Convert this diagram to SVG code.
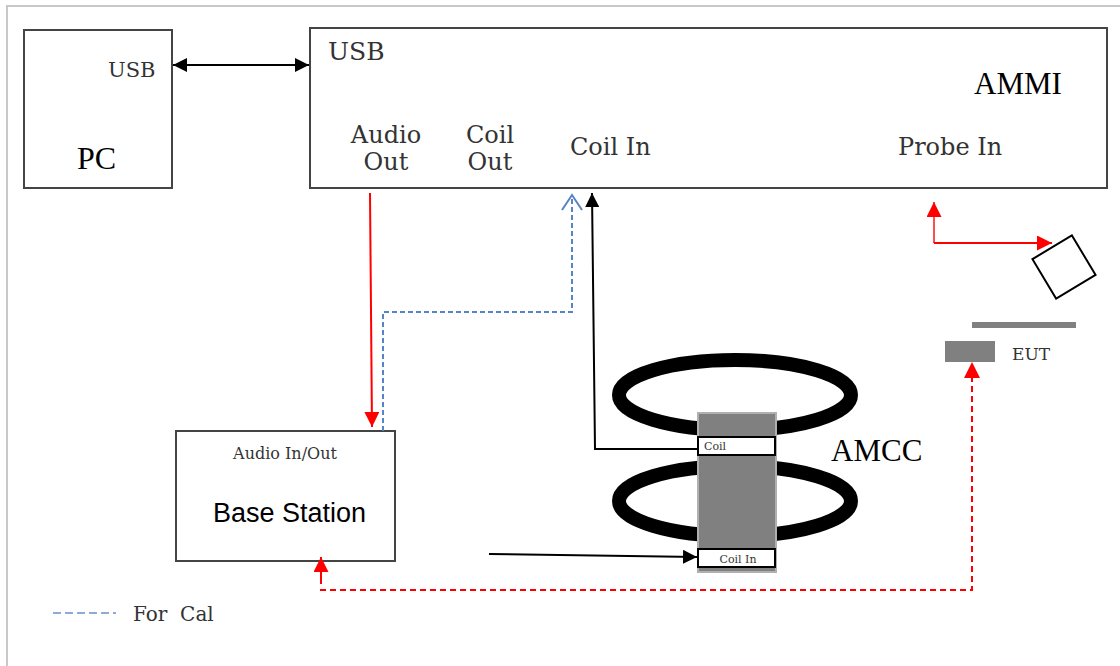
<svg xmlns="http://www.w3.org/2000/svg" width="1120" height="666" viewBox="0 0 1120 666">
<style>
.box{fill:#fff;stroke:#444;stroke-width:2}
.lbl{font-family:"DejaVu Serif",serif;fill:#333}
.big{font-family:"Liberation Serif",serif;fill:#000}
.blk{stroke:#000;stroke-width:2;fill:none}
.red{stroke:#f00;stroke-width:2;fill:none}
.reddash{stroke:#f00;stroke-width:2;fill:none;stroke-dasharray:6 4}
.bluedash{stroke:#5585c6;stroke-width:2;fill:none;stroke-dasharray:5 3}
.coil{fill:none;stroke:#000;stroke-width:14}
.port{fill:#fff;stroke:#000;stroke-width:2}
</style>
<defs>
<marker id="ab" viewBox="0 0 10 10" refX="10" refY="5" markerWidth="14" markerHeight="14" markerUnits="userSpaceOnUse" orient="auto-start-reverse"><path d="M0,0 L10,5 L0,10 z" fill="#000"/></marker>
<marker id="ar" viewBox="0 0 10 10" refX="10" refY="5" markerWidth="15" markerHeight="15" markerUnits="userSpaceOnUse" orient="auto-start-reverse"><path d="M0,0 L10,5 L0,10 z" fill="#f00"/></marker>
</defs>
<rect width="1120" height="666" fill="#fff"/>
<path d="M7,666 V6 H1120" fill="none" stroke="#c8c8c8" stroke-width="2"/>

<g id="pc">
<rect class="box" x="24" y="30" width="148" height="158"/>
<text class="lbl" x="108" y="77" font-size="21">USB</text>
<text class="big" x="77" y="169" font-size="32">PC</text>
</g>

<g id="ammi">
<rect class="box" x="310" y="28" width="797" height="160"/>
<text class="lbl" x="328" y="60" font-size="25">USB</text>
<text class="big" x="974" y="94" font-size="31">AMMI</text>
<text class="lbl" x="386" y="143" font-size="24" text-anchor="middle">Audio</text>
<text class="lbl" x="386" y="170" font-size="24" text-anchor="middle">Out</text>
<text class="lbl" x="490" y="143" font-size="24" text-anchor="middle">Coil</text>
<text class="lbl" x="490" y="170" font-size="24" text-anchor="middle">Out</text>
<text class="lbl" x="570" y="155" font-size="24">Coil In</text>
<text class="lbl" x="898" y="155" font-size="24">Probe In</text>
</g>

<g id="base-station">
<rect class="box" x="176" y="431" width="219" height="130"/>
<text class="lbl" x="285" y="459" font-size="16" text-anchor="middle">Audio In/Out</text>
<text x="213" y="522" font-size="27" font-family="Liberation Sans,sans-serif" fill="#000">Base Station</text>
</g>

<g id="amcc">
<ellipse class="coil" cx="735" cy="395" rx="116" ry="35"/>
<ellipse class="coil" cx="735" cy="501" rx="116" ry="35"/>
<rect x="698" y="413" width="78" height="159" fill="#808080" stroke="#b0b0b0" stroke-width="2"/>
<rect class="port" x="698" y="437" width="77" height="18"/>
<text class="lbl" x="704" y="450" font-size="11">Coil</text>
<rect class="port" x="698" y="549" width="77" height="18"/>
<text class="lbl" x="738" y="563" font-size="11" text-anchor="middle">Coil In</text>
<text class="big" x="831" y="461" font-size="31">AMCC</text>
</g>

<g id="probe">
<rect x="-23" y="-23" width="46" height="46" fill="#fff" stroke="#000" stroke-width="2" transform="translate(1064,267) rotate(-31)"/>
</g>

<g id="eut">
<rect x="972" y="322" width="104" height="6" fill="#808080"/>
<rect x="945" y="341" width="50" height="21" fill="#808080"/>
<text class="lbl" x="1012" y="360" font-size="17">EUT</text>
</g>

<g id="legend">
<line x1="53" y1="613" x2="116" y2="613" stroke="#8eaadb" stroke-width="2" stroke-dasharray="8 4"/>
<text class="lbl" x="133" y="621" font-size="20" xml:space="preserve">For  Cal</text>
</g>

<g id="connectors">
<line class="blk" x1="173" y1="65" x2="309" y2="65" marker-start="url(#ab)" marker-end="url(#ab)"/>
<line class="red" x1="370" y1="193" x2="372" y2="427" marker-end="url(#ar)"/>
<polyline class="bluedash" points="383,431 383,312 572,312 572,196"/>
<polyline points="562,210 572,195 582,210" fill="none" stroke="#5585c6" stroke-width="2"/>
<polyline class="blk" points="698,449 595,449 592,193" marker-end="url(#ab)"/>
<line class="blk" x1="489" y1="554" x2="697" y2="557" marker-end="url(#ab)"/>
<line class="red" x1="321" y1="584" x2="321" y2="557" marker-end="url(#ar)"/>
<polyline class="reddash" points="320,590 972,590 972,364"/>
<path d="M964,378 L972,362 L980,378 z" fill="#f00"/>
<line x1="934" y1="243" x2="934" y2="202" stroke="#f00" stroke-width="2" stroke-opacity="0.7" marker-end="url(#ar)"/>
<line class="red" x1="934" y1="243" x2="1052" y2="243" marker-end="url(#ar)"/>
</g>
</svg>
